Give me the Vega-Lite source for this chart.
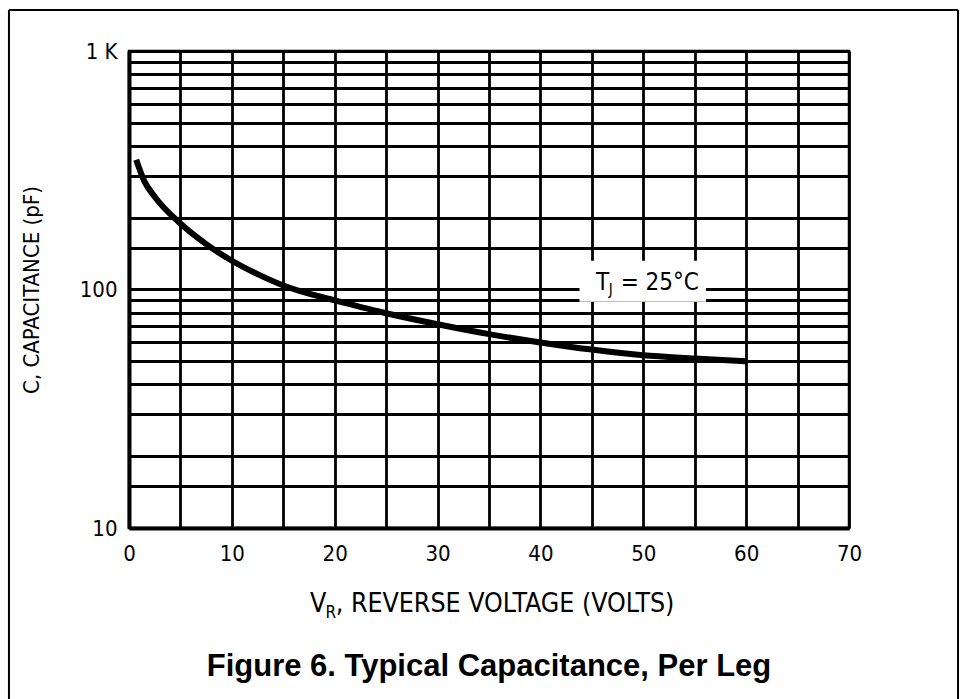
{
  "$schema": "https://vega.github.io/schema/vega-lite/v6.json",
  "width": 720,
  "height": 477,
  "autosize": {"type": "none"},
  "padding": {"left": 129, "top": 51, "right": 126, "bottom": 171},
  "background": "white",
  "config": {
    "view": {"stroke": "black", "strokeWidth": 2.5},
    "text": {"font": "DejaVu Sans Condensed, Liberation Sans Narrow, sans-serif", "color": "black"}
  },
  "title": {
    "text": "Figure 6. Typical Capacitance, Per Leg",
    "orient": "bottom",
    "anchor": "middle",
    "font": "Liberation Sans, Arial, sans-serif",
    "fontSize": 31,
    "fontWeight": "bold",
    "color": "black",
    "offset": -48
  },
  "datasets": {
    "curve": [
      {"V": 0.7, "C": 350},
      {"V": 1.5, "C": 284},
      {"V": 2.5, "C": 245},
      {"V": 5, "C": 189},
      {"V": 7.5, "C": 155},
      {"V": 10, "C": 132},
      {"V": 12.5, "C": 116},
      {"V": 15, "C": 104},
      {"V": 17.5, "C": 96},
      {"V": 20, "C": 90},
      {"V": 25, "C": 79.5},
      {"V": 30, "C": 71.5},
      {"V": 35, "C": 65},
      {"V": 40, "C": 60},
      {"V": 45, "C": 56},
      {"V": 50, "C": 53},
      {"V": 55, "C": 51.4},
      {"V": 60, "C": 50}
    ]
  },
  "layer": [
    {
      "data": {"name": "curve"},
      "mark": {"type": "line", "color": "black", "strokeWidth": 6, "interpolate": "monotone", "clip": true},
      "encoding": {
        "x": {
          "field": "V", "type": "quantitative",
          "scale": {"domain": [0, 70], "nice": false, "zero": false},
          "axis": {
            "values": [0, 5, 10, 15, 20, 25, 30, 35, 40, 45, 50, 55, 60, 65, 70],
            "labelExpr": "datum.value % 10 == 0 ? datum.label : ''",
            "title": null,
            "grid": true, "gridColor": "black", "gridWidth": 2.8, "gridOpacity": 1,
            "ticks": false,
            "domain": true, "domainColor": "black", "domainWidth": 4,
            "labelFont": "DejaVu Sans Condensed, Liberation Sans Narrow, sans-serif",
            "labelFontSize": 22, "labelColor": "black", "labelPadding": 15,
            "labelFlush": false, "labelOverlap": false
          }
        },
        "y": {
          "field": "C", "type": "quantitative",
          "scale": {"type": "log", "domain": [10, 1000], "nice": false},
          "axis": {
            "values": [10, 15, 20, 30, 40, 50, 60, 70, 80, 90, 100, 150, 200, 300, 400, 500, 600, 700, 800, 900, 1000],
            "labelExpr": "datum.value == 1000 ? '1 K' : datum.value == 100 ? '100' : datum.value == 10 ? '10' : ''",
            "title": "C, CAPACITANCE (pF)",
            "titleFont": "DejaVu Sans Condensed, Liberation Sans Narrow, sans-serif",
            "titleFontSize": 22, "titleFontWeight": "normal", "titleColor": "black", "titlePadding": 36,
            "grid": true, "gridColor": "black", "gridWidth": 2.8, "gridOpacity": 1,
            "ticks": false,
            "domain": true, "domainColor": "black", "domainWidth": 4,
            "labelFont": "DejaVu Sans Condensed, Liberation Sans Narrow, sans-serif",
            "labelFontSize": 22, "labelColor": "black", "labelPadding": 12,
            "labelOverlap": false, "labelFlush": false
          }
        }
      }
    },
    {
      "data": {"values": [{}]},
      "mark": {"type": "rect", "color": "white", "opacity": 1},
      "encoding": {
        "x": {"datum": 43.8, "type": "quantitative"},
        "x2": {"datum": 56.1},
        "y": {"datum": 132, "type": "quantitative"},
        "y2": {"datum": 88.8}
      }
    },
    {
      "data": {"values": [{}]},
      "mark": {"type": "text", "text": "T", "fontSize": 24, "align": "left", "baseline": "alphabetic"},
      "encoding": {
        "x": {"datum": 45.4, "type": "quantitative"},
        "y": {"datum": 100, "type": "quantitative"}
      }
    },
    {
      "data": {"values": [{}]},
      "mark": {"type": "text", "text": "J", "fontSize": 15, "align": "left", "baseline": "alphabetic"},
      "encoding": {
        "x": {"datum": 46.65, "type": "quantitative"},
        "y": {"datum": 94.4, "type": "quantitative"}
      }
    },
    {
      "data": {"values": [{}]},
      "mark": {"type": "text", "text": "= 25°C", "fontSize": 24, "align": "left", "baseline": "alphabetic"},
      "encoding": {
        "x": {"datum": 47.8, "type": "quantitative"},
        "y": {"datum": 100, "type": "quantitative"}
      }
    },
    {
      "data": {"values": [{}]},
      "mark": {"type": "text", "text": "V", "fontSize": 26.5, "align": "left", "baseline": "alphabetic"},
      "encoding": {
        "x": {"datum": 17.6, "type": "quantitative"},
        "y": {"datum": 4.444, "type": "quantitative"}
      }
    },
    {
      "data": {"values": [{}]},
      "mark": {"type": "text", "text": "R", "fontSize": 17, "align": "left", "baseline": "alphabetic"},
      "encoding": {
        "x": {"datum": 19.1, "type": "quantitative"},
        "y": {"datum": 4.195, "type": "quantitative"}
      }
    },
    {
      "data": {"values": [{}]},
      "mark": {"type": "text", "text": ", REVERSE VOLTAGE (VOLTS)", "fontSize": 26.5, "align": "left", "baseline": "alphabetic"},
      "encoding": {
        "x": {"datum": 20.1, "type": "quantitative"},
        "y": {"datum": 4.444, "type": "quantitative"}
      }
    },
    {
      "data": {"values": [{}]},
      "mark": {"type": "rule", "color": "black", "strokeWidth": 2},
      "encoding": {
        "x": {"datum": -11.67, "type": "quantitative"},
        "x2": {"datum": 80.6},
        "y": {"datum": 1485, "type": "quantitative"}
      }
    },
    {
      "data": {"values": [{}]},
      "mark": {"type": "rule", "color": "black", "strokeWidth": 2},
      "encoding": {
        "x": {"datum": -11.67, "type": "quantitative"},
        "y": {"datum": 1485, "type": "quantitative"},
        "y2": {"datum": 1.919}
      }
    },
    {
      "data": {"values": [{}]},
      "mark": {"type": "rule", "color": "black", "strokeWidth": 2},
      "encoding": {
        "x": {"datum": 80.6, "type": "quantitative"},
        "y": {"datum": 1485, "type": "quantitative"},
        "y2": {"datum": 1.919}
      }
    }
  ]
}
